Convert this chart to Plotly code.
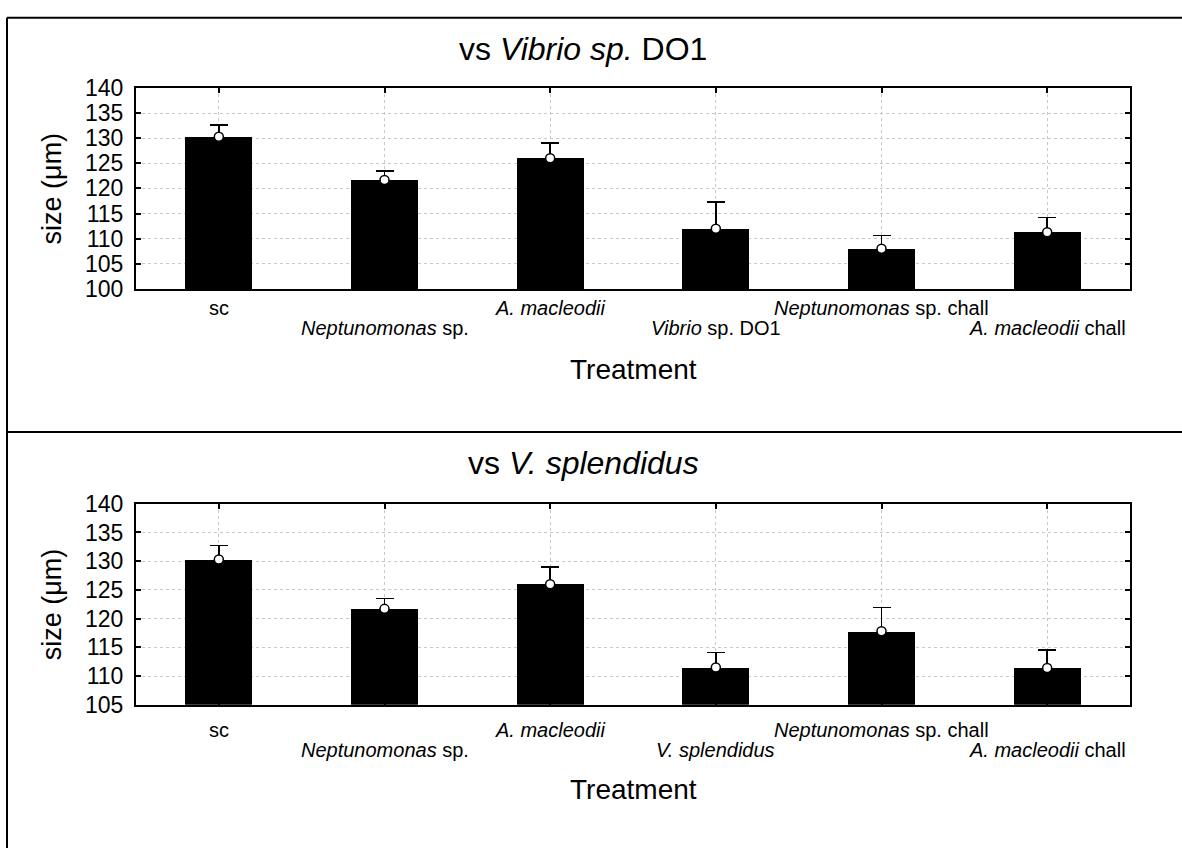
import plotly.graph_objects as go

# ---- data -------------------------------------------------------------
treatments_do1 = ["sc", "<i>Neptunomonas</i> sp.", "<i>A. macleodii</i>",
                  "<i>Vibrio</i> sp. DO1", "<i>Neptunomonas</i> sp. chall",
                  "<i>A. macleodii</i> chall"]
treatments_vs = ["sc", "<i>Neptunomonas</i> sp.", "<i>A. macleodii</i>",
                 "<i>V. splendidus</i>", "<i>Neptunomonas</i> sp. chall",
                 "<i>A. macleodii</i> chall"]

size_do1 = [130.3, 121.7, 126.0, 112.0, 108.0, 111.3]
err_do1 = [2.3, 1.8, 3.05, 5.3, 2.6, 2.95]

size_vs = [130.3, 121.7, 126.0, 111.5, 117.8, 111.4]
err_vs = [2.4, 1.8, 3.0, 2.6, 4.1, 3.1]

y_ticks_do1 = [100, 105, 110, 115, 120, 125, 130, 135, 140]
y_ticks_vs = [105, 110, 115, 120, 125, 130, 135, 140]

titles = ["vs <i>Vibrio sp.</i> DO1", "vs <i>V. splendidus</i>"]

# ---- layout geometry (pixels) ------------------------------------------
W, H = 1182, 861
FONT = "Liberation Sans, Arial, Helvetica, sans-serif"


def px(x):
    return x / W


def py(y):
    return 1 - y / H


PLOT_L, PLOT_R = 136, 1130
panels = [
    dict(top=77.3, bottom=284.5, title_y=37.5, row1=304, row2=325, xtitle=368,
         cats=treatments_do1, vals=size_do1, errs=err_do1, yticks=y_ticks_do1,
         yrange=[100, 140], title=titles[0]),
    dict(top=506.0, bottom=713.3, title_y=464, row1=739, row2=760, xtitle=801,
         cats=treatments_vs, vals=size_vs, errs=err_vs, yticks=y_ticks_vs,
         yrange=[105, 140], title=titles[1]),
]

fig = go.Figure()
annotations = []


def label(x, y, text, size, xref="paper", angle=0):
    return dict(x=x, xref=xref, y=y, yref="paper", text=text,
                showarrow=False, xanchor="center", yanchor="middle",
                textangle=angle,
                font=dict(family=FONT, size=size, color="black"))


for i, p in enumerate(panels):
    n = i + 1
    xa = "x" if n == 1 else f"x{n}"
    ya = "y" if n == 1 else f"y{n}"
    xpos = list(range(len(p["vals"])))

    fig.add_trace(go.Bar(
        x=xpos, y=p["vals"], xaxis=xa, yaxis=ya, width=0.406,
        marker=dict(color="black", line=dict(width=0)),
        error_y=dict(type="data", array=p["errs"], symmetric=True,
                     color="black", thickness=1.5, width=9),
        hoverinfo="skip",
    ))
    fig.add_trace(go.Scatter(
        x=xpos, y=p["vals"], xaxis=xa, yaxis=ya, mode="markers",
        marker=dict(symbol="circle", size=9, color="white",
                    line=dict(color="black", width=1.5)),
        hoverinfo="skip",
    ))

    axis_common = dict(
        showline=True, linecolor="black", linewidth=2, mirror="ticks",
        ticks="inside", ticklen=5, tickwidth=1.5, tickcolor="black",
        showgrid=True, gridcolor="#c8c8c8", griddash="dot", gridwidth=1,
        zeroline=False,
    )
    fig.update_layout({
        ("xaxis" if n == 1 else f"xaxis{n}"): dict(
            axis_common, domain=[px(PLOT_L), px(PLOT_R)],
            range=[-0.5, len(xpos) - 0.5], tickvals=xpos,
            showticklabels=False, anchor=ya),
        ("yaxis" if n == 1 else f"yaxis{n}"): dict(
            axis_common, domain=[py(p["bottom"]), py(p["top"])],
            range=p["yrange"], tickvals=p["yticks"],
            tickfont=dict(family=FONT, size=23, color="black"),
            ticklabelstandoff=6, anchor=xa),
    })

    # category labels, staggered on two rows
    for j, cat in enumerate(p["cats"]):
        row_y = p["row1"] if j % 2 == 0 else p["row2"]
        annotations.append(label(j, py(row_y), cat, 20, xref=xa))

    # axis titles and panel title
    annotations.append(label(px((PLOT_L + PLOT_R) / 2), py(p["xtitle"]),
                             "Treatment", 28))
    annotations.append(label(px(52), py((p["top"] + p["bottom"]) / 2),
                             "size (\u03bcm)", 27, angle=-90))
    annotations.append(label(px(583), py(p["title_y"]), p["title"], 32))

# outer frame and panel divider
frame = dict(color="black", width=2)
shapes = [
    dict(type="line", xref="paper", yref="paper",
         x0=px(7), x1=px(7), y0=py(5), y1=py(H), line=frame),
    dict(type="line", xref="paper", yref="paper",
         x0=px(7), x1=1, y0=py(5), y1=py(5), line=frame),
    dict(type="line", xref="paper", yref="paper",
         x0=px(7), x1=1, y0=py(432), y1=py(432), line=frame),
]

fig.update_layout(
    width=W, height=H, margin=dict(l=0, r=0, t=0, b=0),
    paper_bgcolor="white", plot_bgcolor="white", showlegend=False,
    bargap=0, annotations=annotations, shapes=shapes,
    font=dict(family=FONT, color="black"),
)

fig.write_html("out.html")
